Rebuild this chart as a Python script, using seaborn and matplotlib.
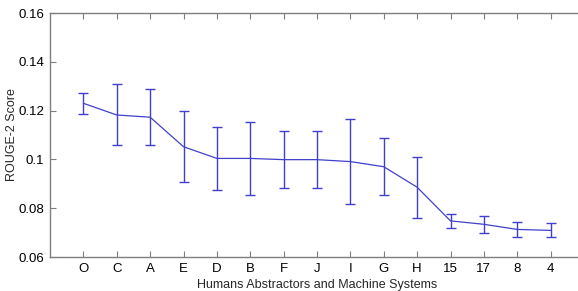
import numpy as np
import pandas as pd
import seaborn as sns
import matplotlib.pyplot as plt

sns.set_theme(style="ticks")
plt.rcParams['font.family'] = ['Liberation Sans', 'DejaVu Sans']

# data
systems = ['O', 'C', 'A', 'E', 'D', 'B', 'F', 'J', 'I', 'G', 'H', '15', '17', '8', '4']
score = [0.1230, 0.1182, 0.1173, 0.1052, 0.1004, 0.1004, 0.0999, 0.0999,
         0.0991, 0.0970, 0.0886, 0.0748, 0.0734, 0.0713, 0.0709]
err = [0.0044, 0.0125, 0.0116, 0.0146, 0.0129, 0.0150, 0.0116, 0.0116,
       0.0175, 0.0116, 0.0125, 0.0030, 0.0034, 0.0029, 0.0029]

df = pd.DataFrame({'pos': np.arange(1, len(systems) + 1), 'system': systems,
                   'score': score, 'err': err})

blue = '#4040cc'
edge = '#7f7f7f'

fig = plt.figure(figsize=(5.78, 2.91), dpi=100)
# axes runs a little past the right edge, as in the reference
ax = fig.add_axes([50 / 578, (291 - 257) / 291, 534 / 578, 244 / 291])

sns.lineplot(data=df, x='pos', y='score', color=blue, linewidth=0.9, ax=ax)
ax.errorbar(df['pos'], df['score'], yerr=df['err'], fmt='none',
            ecolor=blue, elinewidth=1.0, capsize=3.6, capthick=1.0)

ax.set_xlim(0, 16)
ax.set_ylim(0.06, 0.16)
ax.set_xticks(df['pos'])
ax.set_xticklabels(systems)
ax.set_yticks([0.06, 0.08, 0.1, 0.12, 0.14, 0.16])
ax.set_yticklabels(['0.06', '0.08', '0.1', '0.12', '0.14', '0.16'])

for s in ax.spines.values():
    s.set_visible(True)
    s.set_color(edge)
    s.set_linewidth(1.0)
ax.tick_params(direction='in', length=4, width=0.8, color=edge,
               labelsize=9.5, labelcolor='black', top=True, right=True, pad=4)

ax.set_xlabel('Humans Abstractors and Machine Systems', fontsize=9, labelpad=3)
ax.set_ylabel('ROUGE-2 Score', fontsize=9)
ax.yaxis.set_label_coords(-0.06, 0.5)

fig.savefig('out.png', dpi=100)
